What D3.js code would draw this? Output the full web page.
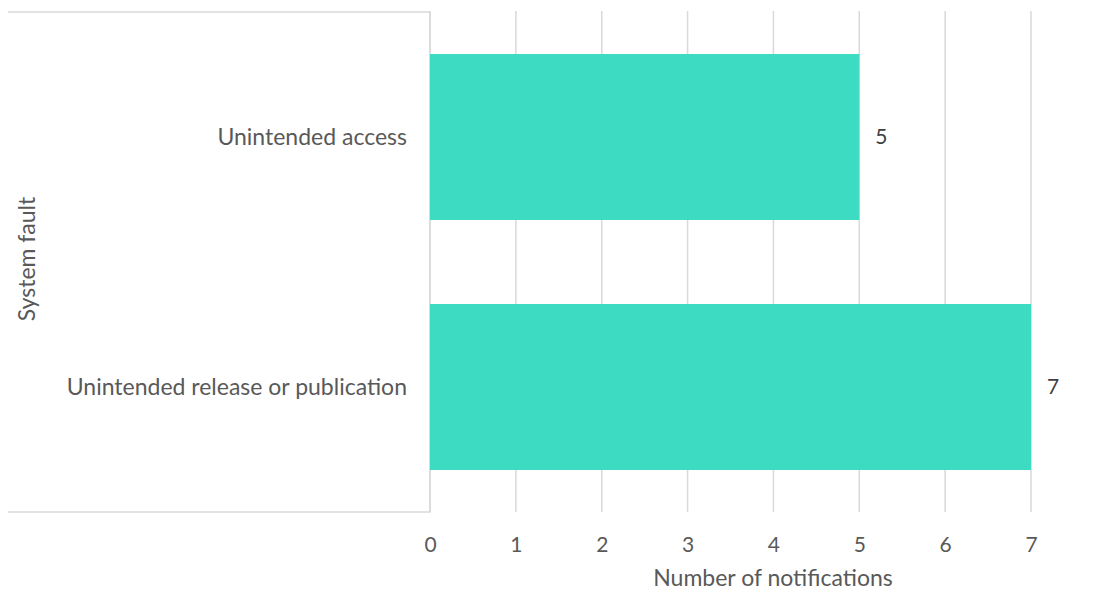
<!DOCTYPE html>
<html><head><meta charset="utf-8">
<script src="https://cdn.jsdelivr.net/npm/d3@7"></script>
<style>body{margin:0;background:#fff}svg{display:block}text{font-family:Lato,"Open Sans",sans-serif;fill:#595959}</style>
</head><body>
<svg id="c" width="1112" height="591"></svg>
<script>
const categories = ["Unintended access", "Unintended release or publication"];
const values = [5, 7];
const tickValues = [0, 1, 2, 3, 4, 5, 6, 7, 8];
const xTitle = "Number of notifications";
const yTitle = "System fault";

(function () {
const svg = d3.select("#c");
const plotLeft = 430, plotTop = 12, plotBottom = 512;
const x = d3.scaleLinear().domain([0, 8]).range([plotLeft, plotLeft + 8 * 85.86]);
const y = d3.scaleBand().domain(categories).range([plotTop, plotBottom]).paddingInner(0.336).paddingOuter(0.168);

// gridlines
svg.append("g").selectAll("line").data(tickValues).join("line")
  .attr("x1", d => x(d)).attr("x2", d => x(d))
  .attr("y1", plotTop - 1).attr("y2", plotBottom)
  .attr("stroke", "#d9d9d9").attr("stroke-width", 1.5);

// category box
svg.append("path")
  .attr("d", `M8,${plotTop}H${plotLeft}V${plotBottom}H8`)
  .attr("fill", "none").attr("stroke", "#d9d9d9").attr("stroke-width", 1.5);

// bars
svg.append("g").selectAll("rect").data(values).join("rect")
  .attr("x", x(0)).attr("y", (d, i) => y(categories[i]))
  .attr("width", d => x(d) - x(0)).attr("height", y.bandwidth())
  .attr("fill", "#3ddbc2");

// value labels
svg.append("g").selectAll("text").data(values).join("text")
  .attr("x", d => x(d) + 22).attr("y", (d, i) => y(categories[i]) + y.bandwidth() / 2)
  .attr("dy", "0.35em").attr("text-anchor", "middle")
  .style("font-size", "21px").style("fill", "#404040").text(d => d);

// category labels
svg.append("g").selectAll("text").data(categories).join("text")
  .attr("x", plotLeft - 23).attr("y", d => y(d) + y.bandwidth() / 2)
  .attr("dy", "0.35em").attr("text-anchor", "end")
  .style("font-size", "23px").text(d => d);

// x axis
const xAxis = d3.axisBottom(x).tickValues(tickValues).tickSize(0).tickPadding(0).tickFormat(d3.format("d"));
const gx = svg.append("g").attr("transform", `translate(0,545)`).call(xAxis);
gx.select(".domain").remove();
gx.selectAll("text").attr("dy", "0.35em").attr("y", 0).style("font-size", "21px").style("fill", "#595959").style("font-family", "Lato, sans-serif");

svg.append("text").attr("x", 773).attr("y", 578).attr("dy", "0.35em").attr("text-anchor", "middle")
  .style("font-size", "23px").text(xTitle);
svg.append("text").attr("transform", "translate(27,259) rotate(-90)").attr("dy", "0.35em").attr("text-anchor", "middle")
  .style("font-size", "23px").text(yTitle);
})();
</script>
</body></html>
